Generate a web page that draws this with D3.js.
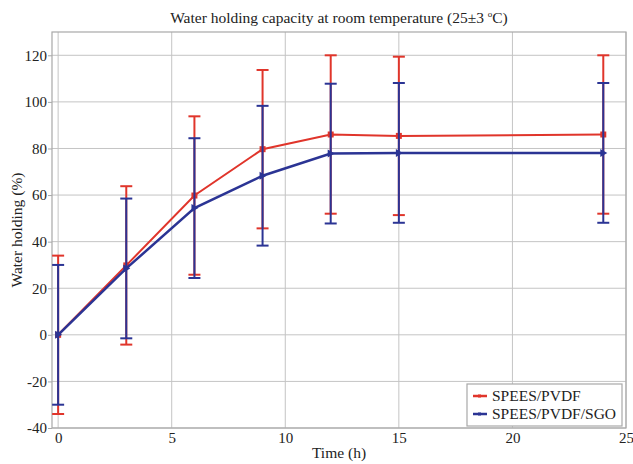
<!DOCTYPE html>
<html>
<head>
<meta charset="utf-8">
<script src="https://cdn.jsdelivr.net/npm/d3@7"></script>
<style>
body{margin:0;background:#fff;}
text{font-family:"Liberation Serif","Times New Roman",serif;fill:#222;}
</style>
</head>
<body>
<div id="chart"></div>
<script>
// data
var hours = [0, 3, 6, 9, 12, 15, 24];
var pvdf = [0, 29.8, 59.8, 79.7, 86, 85.4, 86];
var pvdfErr = [34, 34, 34, 34, 34, 34, 34];
var sgo = [0, 28.5, 54.4, 68.3, 77.8, 78.1, 78.1];
var sgoErr = [30, 30, 30, 30, 30, 30, 30];
var xTicks = [0, 5, 10, 15, 20, 25];
var yTicks = [-40, -20, 0, 20, 40, 60, 80, 100, 120];
var seriesNames = ["SPEES/PVDF", "SPEES/PVDF/SGO"];

var W = 633, H = 464;
// plot box (window.top is read-only, so no bare "top")
var pLeft = 52, pRight = 626, pTop = 32, pBottom = 428;

var svg = d3.select("#chart").append("svg").attr("width", W).attr("height", H);

var x = d3.scaleLinear().domain([-0.27, 25]).range([pLeft, pRight]);
var y = d3.scaleLinear().domain([-40, 130]).range([pBottom, pTop]);

// grid
svg.append("g").selectAll("line").data(xTicks).enter().append("line")
	.attr("x1", function(d){return x(d)}).attr("x2", function(d){return x(d)})
	.attr("y1", pTop).attr("y2", pBottom)
	.attr("stroke", "#c4c4c4").attr("stroke-width", 1);
svg.append("g").selectAll("line").data(yTicks).enter().append("line")
	.attr("x1", pLeft).attr("x2", pRight)
	.attr("y1", function(d){return y(d)}).attr("y2", function(d){return y(d)})
	.attr("stroke", "#c4c4c4").attr("stroke-width", 1);

// frame
svg.append("rect").attr("x", pLeft).attr("y", pTop)
	.attr("width", pRight - pLeft).attr("height", pBottom - pTop)
	.attr("fill", "none").attr("stroke", "#a8a8a8").attr("stroke-width", 1.2);

// axes, plain hyphen for negatives like the original
var fmt = function(d){return String(d)};
var xAxis = svg.append("g").attr("transform", "translate(0," + pBottom + ")")
	.call(d3.axisBottom(x).tickValues(xTicks).tickFormat(fmt).tickSize(0).tickPadding(4));
var yAxis = svg.append("g").attr("transform", "translate(" + pLeft + ",0)")
	.call(d3.axisLeft(y).tickValues(yTicks).tickFormat(fmt).tickSize(4).tickPadding(1));
[xAxis, yAxis].forEach(function(a){
	a.select(".domain").remove();
	a.selectAll("line").attr("stroke", "#a8a8a8");
	a.selectAll("text").style("font-size", "15px").style("font-family", "Liberation Serif").attr("fill", "#222");
});

// titles
svg.append("text").attr("x", (pLeft + pRight) / 2).attr("y", 23)
	.attr("text-anchor", "middle").style("font-size", "15.5px")
	.html("Water holding capacity at room temperature (25&#177;3 <tspan dy='-6' font-size='9'>o</tspan><tspan dy='6'>C)</tspan>");
svg.append("text").attr("x", (pLeft + pRight) / 2).attr("y", 458)
	.attr("text-anchor", "middle").style("font-size", "15.5px").text("Time (h)");
svg.append("text").attr("transform", "translate(22," + (pTop + pBottom) / 2 + ") rotate(-90)")
	.attr("text-anchor", "middle").style("font-size", "15.5px").text("Water holding (%)");

var colors = ["#e0352b", "#2b3494"];
var sets = [
	{vals: pvdf, err: pvdfErr, color: colors[0], lw: 2, marker: "square"},
	{vals: sgo, err: sgoErr, color: colors[1], lw: 2.5, marker: "tri"}
];

var line = d3.line().x(function(d){return x(d[0])}).y(function(d){return y(d[1])});

sets.forEach(function(s){
	var pts = hours.map(function(h, i){return [h, s.vals[i], s.err[i]]});
	var g = svg.append("g");
	// error bars
	g.selectAll(".eb").data(pts).enter().append("line")
		.attr("x1", function(d){return x(d[0])}).attr("x2", function(d){return x(d[0])})
		.attr("y1", function(d){return y(d[1] + d[2])}).attr("y2", function(d){return y(d[1] - d[2])})
		.attr("stroke", s.color).attr("stroke-width", 2);
	[1, -1].forEach(function(sign){
		g.selectAll(".cap").data(pts).enter().append("line")
			.attr("x1", function(d){return x(d[0]) - 6}).attr("x2", function(d){return x(d[0]) + 6})
			.attr("y1", function(d){return y(d[1] + sign * d[2])}).attr("y2", function(d){return y(d[1] + sign * d[2])})
			.attr("stroke", s.color).attr("stroke-width", 2);
	});
	g.append("path").datum(pts).attr("d", line)
		.attr("fill", "none").attr("stroke", s.color).attr("stroke-width", s.lw);
	if(s.marker == "square"){
		g.selectAll(".m").data(pts).enter().append("rect")
			.attr("x", function(d){return x(d[0]) - 3}).attr("y", function(d){return y(d[1]) - 3})
			.attr("width", 6).attr("height", 6).attr("fill", s.color);
	} else {
		g.selectAll(".m").data(pts).enter().append("path")
			.attr("d", function(d){var cx = x(d[0]), cy = y(d[1]);
				return "M" + (cx - 3) + "," + (cy - 4) + "L" + (cx + 4) + "," + cy + "L" + (cx - 3) + "," + (cy + 4) + "Z";})
			.attr("fill", s.color);
	}
});

// legend
var lg = svg.append("g").attr("transform", "translate(467,384)");
lg.append("rect").attr("width", 155).attr("height", 42)
	.attr("fill", "#fff").attr("stroke", "#a8a8a8").attr("stroke-width", 1.2);
sets.forEach(function(s, i){
	var yy = 12 + i * 18;
	lg.append("line").attr("x1", 6).attr("x2", 20).attr("y1", yy).attr("y2", yy)
		.attr("stroke", s.color).attr("stroke-width", 2.5);
	lg.append("rect").attr("x", 11).attr("y", yy - 1.5).attr("width", 3).attr("height", 3).attr("fill", s.color);
	lg.append("text").attr("x", 25).attr("y", yy + 5).style("font-size", "15.5px").text(seriesNames[i]);
});
</script>
</body>
</html>
